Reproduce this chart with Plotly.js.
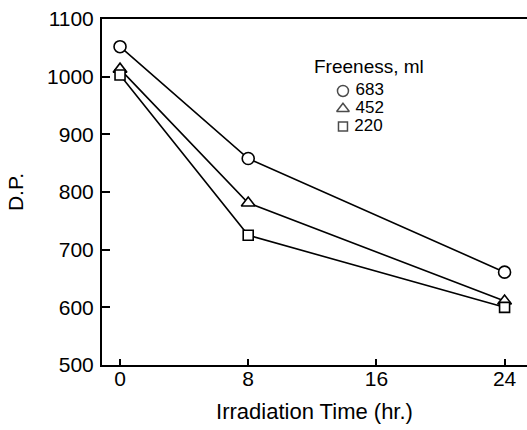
<!DOCTYPE html>
<html>
<head>
<meta charset="utf-8">
<script src="https://cdn.plot.ly/plotly-3.0.1.min.js"></script>
<style>html,body{margin:0;padding:0;background:#fff;}#chart{width:527px;height:430px;}</style>
</head>
<body>
<div id="chart"></div>
<script>
const hours = [0, 8, 24];
const dp683 = [1052, 858, 661];
const dp452 = [1013, 781, 611];
const dp220 = [1003, 725, 600];
const freenessLabels = ['683', '452', '220'];
const symbols = ['circle', 'triangle-up', 'square'];
const seriesValues = [dp683, dp452, dp220];

const FONT = 'Liberation Sans, Arial, Helvetica, sans-serif';
const traces = [];
seriesValues.forEach((vals, i) => {
  traces.push({
    x: hours, y: vals, type: 'scatter', mode: 'lines+markers',
    line: {color: '#000', width: 1.6},
    marker: {symbol: symbols[i], size: i === 2 ? 10 : 12, color: '#fff', line: {color: '#000', width: 1.6}},
    showlegend: false, cliponaxis: false
  });
});
// legend key drawn on a hidden overlay axis pair
traces.push({
  x: freenessLabels.map(() => 0),
  y: freenessLabels.map((_, i) => i),
  text: freenessLabels.map(s => ' ' + s),
  xaxis: 'x2', yaxis: 'y2',
  type: 'scatter', mode: 'markers+text', textposition: 'middle right',
  textfont: {size: 17, family: 'Liberation Sans, Arial, sans-serif', color: '#000'},
  marker: {symbol: symbols, size: [11, 11, 9], color: '#fff', line: {color: '#000', width: 1.5}},
  showlegend: false, cliponaxis: false, hoverinfo: 'skip'
});

const layout = {
  width: 527, height: 430,
  margin: {l: 102, r: 0, t: 19, b: 65},
  paper_bgcolor: '#fff', plot_bgcolor: '#fff',
  font: {family: FONT, color: '#000'},
  showlegend: false,
  annotations: [{
    text: 'Freeness, ml', xref: 'paper', yref: 'paper', x: 0.494, y: 0.864,
    xanchor: 'left', yanchor: 'middle', showarrow: false,
    font: {size: 19, family: FONT}
  }],
  xaxis: {
    range: [-1.125, 25.4], tickvals: [0, 8, 16, 24], ticktext: ['0', '8', '16', '24'],
    ticks: 'inside', ticklen: 6, tickwidth: 2, tickcolor: '#000',
    showline: true, linewidth: 2, linecolor: '#000', mirror: true,
    showgrid: false, zeroline: false, ticklabelstandoff: -6,
    tickfont: {size: 21, family: FONT},
    title: {text: 'Irradiation Time (hr.)', font: {size: 22, family: FONT}, standoff: 14}
  },
  yaxis: {
    range: [500, 1100], tickvals: [500, 600, 700, 800, 900, 1000, 1100],
    ticks: 'inside', ticklen: 8, tickwidth: 2, tickcolor: '#000',
    showline: true, linewidth: 2, linecolor: '#000', mirror: false,
    showgrid: false, zeroline: false, ticklabelstandoff: 2,
    tickfont: {size: 21, family: FONT},
    title: {text: 'D.P.', font: {size: 21, family: FONT}, standoff: 18}
  },
  xaxis2: {domain: [0.567, 0.8], range: [0, 1], anchor: 'y2', visible: false, fixedrange: true},
  yaxis2: {domain: [0.689, 0.792], range: [2, 0], anchor: 'x2', visible: false, fixedrange: true}
};
Plotly.newPlot('chart', traces, layout, {staticPlot: true, displayModeBar: false});
</script>
</body>
</html>
